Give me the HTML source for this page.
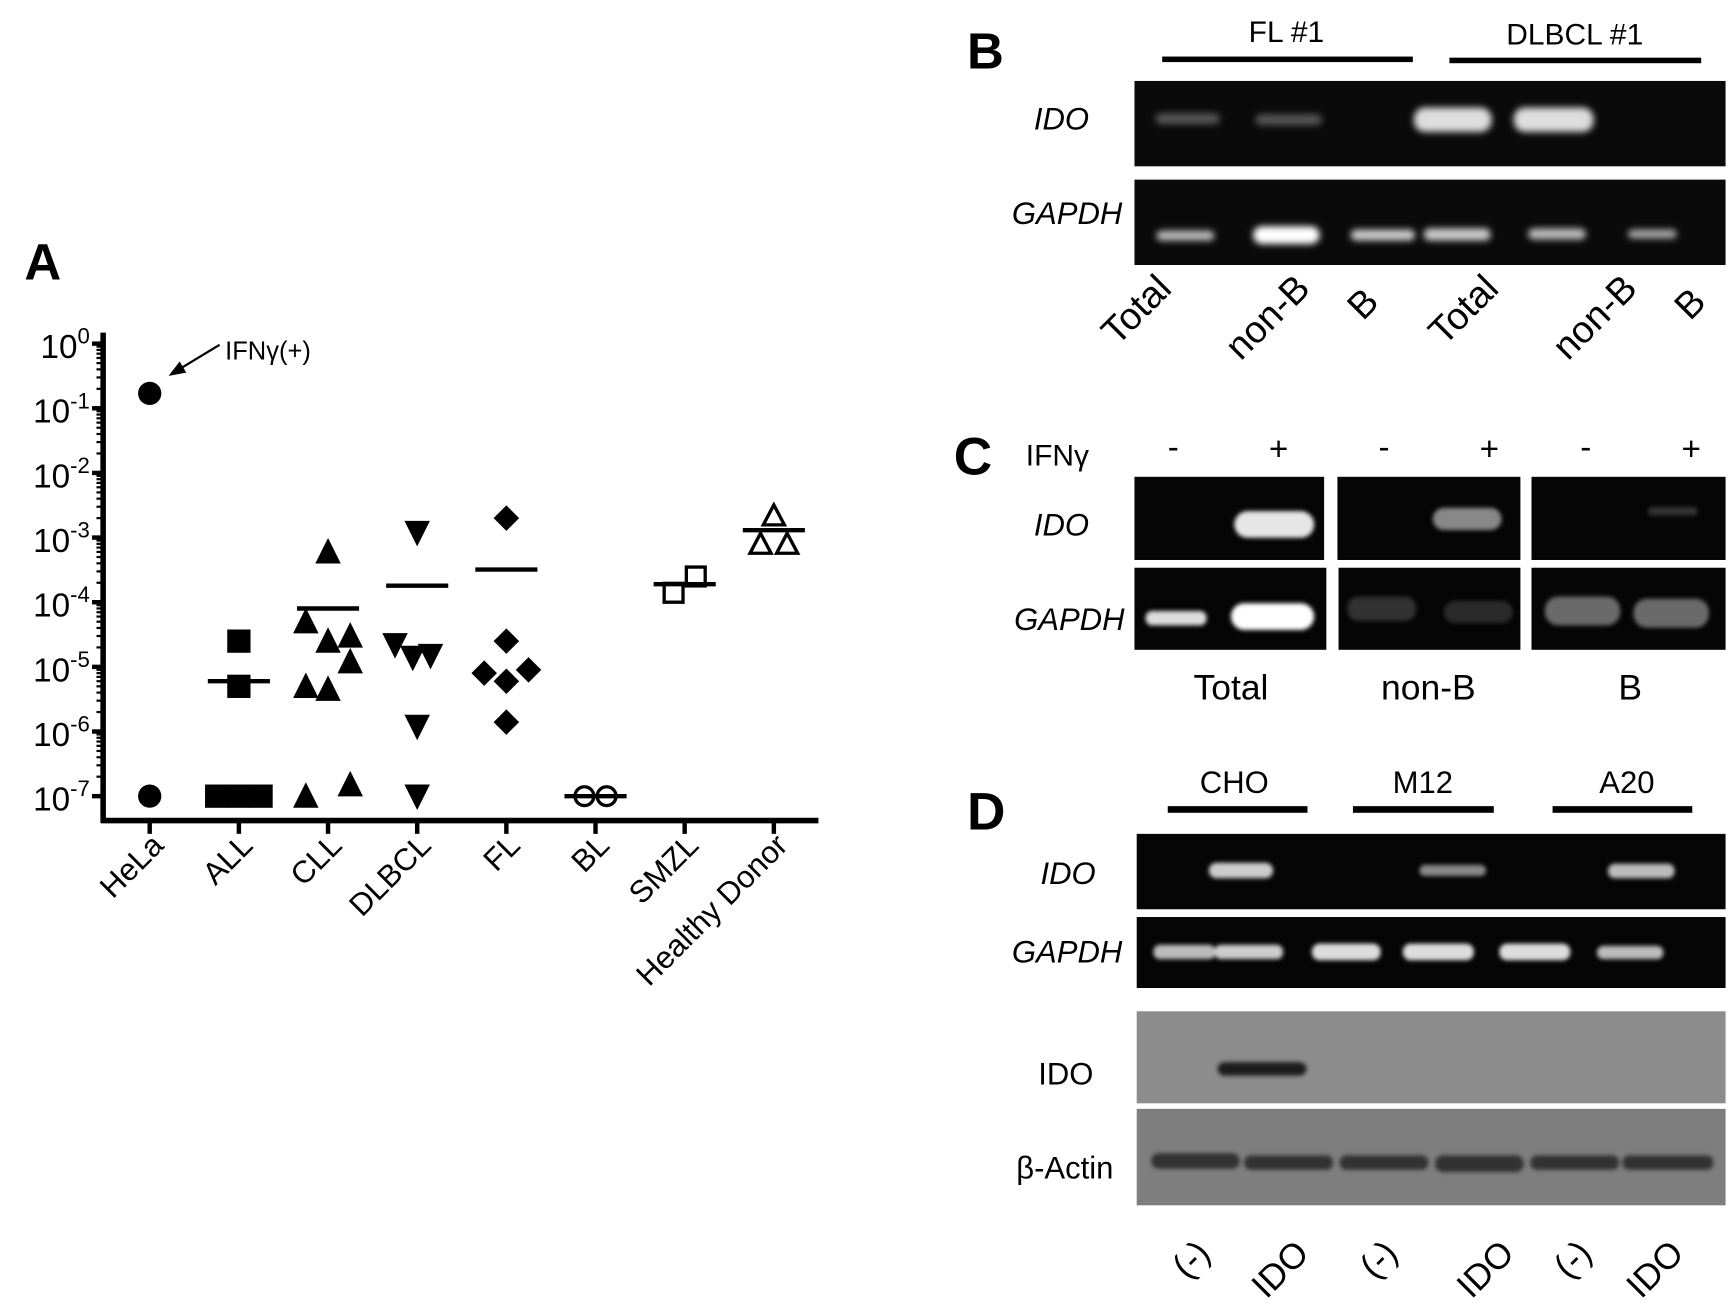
<!DOCTYPE html>
<html><head><meta charset="utf-8"><style>
html,body{margin:0;padding:0;background:#fff;}
svg{display:block;font-family:"Liberation Sans",Arial,sans-serif;}
</style></head><body>
<svg id="fig" width="1730" height="1314" viewBox="0 0 1560 1185" preserveAspectRatio="none">
<defs>
<filter id="blur" x="-30%" y="-100%" width="160%" height="300%"><feGaussianBlur stdDeviation="3"/></filter>
<filter id="blur2" x="-30%" y="-100%" width="160%" height="300%"><feGaussianBlur stdDeviation="2"/></filter>
</defs>
<g id="panelA">
<text x="22" y="252" font-size="46" font-weight="bold">A</text>
</g>
<g id="panelB">
<text x="872" y="62" font-size="46" font-weight="bold">B</text>
<text x="1160" y="38" font-size="27" text-anchor="middle">FL #1</text>
<rect x="1048" y="51" width="226" height="5" fill="#000"/>
<text x="1420" y="40" font-size="27" text-anchor="middle">DLBCL #1</text>
<rect x="1307" y="52" width="227" height="5" fill="#000"/>
<text x="982" y="117" font-size="28" font-style="italic" text-anchor="end">IDO</text>
<text x="1012" y="202" font-size="28" font-style="italic" text-anchor="end">GAPDH</text>
<rect x="1023" y="73" width="533" height="77" fill="#0a0a0a"/>
<rect x="1023" y="162" width="533" height="77" fill="#0a0a0a"/>
<g filter="url(#blur)">
<rect x="1042" y="102" width="58" height="10" rx="5" fill="#555"/>
<rect x="1132" y="103" width="60" height="10" rx="5" fill="#555"/>
<rect x="1275" y="97" width="70" height="22" rx="10" fill="#ddd"/>
<rect x="1365" y="97" width="72" height="22" rx="10" fill="#ddd"/>
<rect x="1043" y="208" width="52" height="9" rx="4" fill="#bbb"/>
<rect x="1130" y="204" width="60" height="16" rx="8" fill="#fff"/>
<rect x="1218" y="207" width="58" height="10" rx="5" fill="#ccc"/>
<rect x="1284" y="206" width="60" height="11" rx="5" fill="#ccc"/>
<rect x="1378" y="206" width="52" height="10" rx="5" fill="#bbb"/>
<rect x="1468" y="207" width="44" height="8" rx="4" fill="#aaa"/>
</g>
<g font-size="34">
<text transform="translate(1058,262) rotate(-45)" text-anchor="end">Total</text>
<text transform="translate(1183,262) rotate(-45)" text-anchor="end">non-B</text>
<text transform="translate(1245,274) rotate(-45)" text-anchor="end">B</text>
<text transform="translate(1353,262) rotate(-45)" text-anchor="end">Total</text>
<text transform="translate(1478,262) rotate(-45)" text-anchor="end">non-B</text>
<text transform="translate(1540,274) rotate(-45)" text-anchor="end">B</text>
</g>
</g>
<g id="panelC">
<text x="860" y="428" font-size="48" font-weight="bold">C</text>
<text x="925" y="420" font-size="27">IFNγ</text>
<g font-size="30" text-anchor="middle">
<text x="1058" y="413">-</text><text x="1153" y="415">+</text>
<text x="1248" y="413">-</text><text x="1343" y="415">+</text>
<text x="1430" y="413">-</text><text x="1525" y="415">+</text>
</g>
<text x="982" y="483" font-size="28" font-style="italic" text-anchor="end">IDO</text>
<text x="1014" y="568" font-size="28" font-style="italic" text-anchor="end">GAPDH</text>
<rect x="1023" y="430" width="171" height="75" fill="#050505"/>
<rect x="1206" y="430" width="165" height="75" fill="#050505"/>
<rect x="1381" y="430" width="175" height="75" fill="#050505"/>
<rect x="1023" y="512" width="173" height="74" fill="#050505"/>
<rect x="1207" y="512" width="164" height="74" fill="#050505"/>
<rect x="1381" y="512" width="175" height="74" fill="#050505"/>
<g filter="url(#blur2)">
<rect x="1113" y="461" width="72" height="24" rx="12" fill="#e6e6e6"/>
<rect x="1292" y="458" width="62" height="20" rx="10" fill="#888"/>
<rect x="1486" y="457" width="45" height="8" rx="4" fill="#333"/>
<rect x="1033" y="551" width="55" height="13" rx="6" fill="#ddd"/>
<rect x="1110" y="544" width="75" height="24" rx="12" fill="#fff"/>
<rect x="1215" y="538" width="62" height="22" rx="10" fill="#333"/>
<rect x="1302" y="542" width="62" height="20" rx="10" fill="#2a2a2a"/>
<rect x="1393" y="538" width="68" height="26" rx="12" fill="#6a6a6a"/>
<rect x="1473" y="540" width="68" height="26" rx="12" fill="#6a6a6a"/>
</g>
<g font-size="32" text-anchor="middle">
<text x="1110" y="631">Total</text><text x="1288" y="631">non-B</text><text x="1470" y="631">B</text>
</g>
</g>
<g id="panelD">
<text x="872" y="748" font-size="48" font-weight="bold">D</text>
<g font-size="28" text-anchor="middle">
<text x="1113" y="715">CHO</text><text x="1283" y="715">M12</text><text x="1467" y="715">A20</text>
</g>
<rect x="1053" y="727" width="126" height="6" fill="#000"/>
<rect x="1220" y="727" width="127" height="6" fill="#000"/>
<rect x="1400" y="727" width="126" height="6" fill="#000"/>
<text x="988" y="797" font-size="28" font-style="italic" text-anchor="end">IDO</text>
<text x="1012" y="868" font-size="28" font-style="italic" text-anchor="end">GAPDH</text>
<text x="986" y="978" font-size="28" text-anchor="end">IDO</text>
<text x="1004" y="1063" font-size="28" text-anchor="end">β-Actin</text>
<rect x="1025" y="752" width="531" height="68" fill="#050505"/>
<rect x="1025" y="827" width="531" height="64" fill="#050505"/>
<rect x="1025" y="912" width="531" height="83" fill="#8c8c8c"/>
<rect x="1025" y="1000" width="531" height="87" fill="#7e7e7e"/>
<g filter="url(#blur2)">
<rect x="1090" y="778" width="58" height="14" rx="7" fill="#ccc"/>
<rect x="1280" y="780" width="60" height="10" rx="5" fill="#888"/>
<rect x="1450" y="779" width="60" height="13" rx="6" fill="#bbb"/>
<rect x="1040" y="852" width="56" height="13" rx="6" fill="#bbb"/>
<rect x="1095" y="852" width="62" height="13" rx="6" fill="#ccc"/>
<rect x="1183" y="851" width="62" height="15" rx="7" fill="#ddd"/>
<rect x="1265" y="851" width="64" height="15" rx="7" fill="#ddd"/>
<rect x="1352" y="851" width="64" height="15" rx="7" fill="#ddd"/>
<rect x="1440" y="853" width="60" height="12" rx="6" fill="#bbb"/>
<rect x="1098" y="958" width="80" height="12" rx="6" fill="#1a1a1a"/>
<rect x="1038" y="1040" width="80" height="14" rx="7" fill="#333"/>
<rect x="1122" y="1042" width="80" height="13" rx="6" fill="#333"/>
<rect x="1208" y="1042" width="80" height="13" rx="6" fill="#333"/>
<rect x="1294" y="1042" width="80" height="15" rx="7" fill="#333"/>
<rect x="1380" y="1042" width="80" height="13" rx="6" fill="#333"/>
<rect x="1463" y="1042" width="82" height="13" rx="6" fill="#333"/>
</g>
<g font-size="32">
<text transform="translate(1093,1132) rotate(-45)" text-anchor="end">(-)</text>
<text transform="translate(1182,1132) rotate(-45)" text-anchor="end">IDO</text>
<text transform="translate(1262,1132) rotate(-45)" text-anchor="end">(-)</text>
<text transform="translate(1367,1132) rotate(-45)" text-anchor="end">IDO</text>
<text transform="translate(1437,1132) rotate(-45)" text-anchor="end">(-)</text>
<text transform="translate(1520,1132) rotate(-45)" text-anchor="end">IDO</text>
</g>
</g>
</svg>
<script>
const categories = ["HeLa","ALL","CLL","DLBCL","FL","BL","SMZL","Healthy Donor"];
const markers = ["circle","square","up","down","diamond","opencircle","opensquare","opentri"];
const values = [
 [0.17, 1e-7],
 [2.5e-5, 5e-6, 1e-7, 1e-7, 1e-7],
 [6e-4, 5e-5, 2.5e-5, 3e-5, 1.2e-5, 5e-6, 4.5e-6, 1e-7, 1.5e-7],
 [1.2e-3, 2.2e-5, 1.4e-5, 1.5e-5, 1.2e-6, 1e-7],
 [2e-3, 2.5e-5, 8e-6, 6e-6, 9e-6, 1.4e-6],
 [1e-7, 1e-7],
 [1.4e-4, 2.5e-4],
 [2.2e-3, 8e-4, 8e-4]
];
const means = [null, 6e-6, 8e-5, 1.8e-4, 3.2e-4, 1e-7, 1.9e-4, 1.3e-3];
const yTickExps = [0,-1,-2,-3,-4,-5,-6,-7];
const jitter = [
 [0,0],[0,0,-1,0,1],[0,-1,0,1,1,-1,0,-1,1],[0,-1,-0.2,0.6,0,0],[0,0,-1,0,1,0],[-0.5,0.5],[-0.5,0.5],[0,-0.6,0.6]
];
const NS="http://www.w3.org/2000/svg";
const g=document.getElementById('panelA');
const X0=93, XBASE=740, XR=738;
function xPos(i){return 135+i*80.4;}
function yPos(v){return 718-(Math.log10(v)+7)*58.3;}
function mk(tag,attrs){const e=document.createElementNS(NS,tag);for(const k in attrs)e.setAttribute(k,attrs[k]);g.appendChild(e);return e;}
let ax=mk('line',{x1:X0,y1:300,x2:X0,y2:XBASE+2,stroke:'#000','stroke-width':5});


let bx=mk('line',{x1:X0-2,y1:XBASE,x2:XR,y2:XBASE,stroke:'#000','stroke-width':5});


yTickExps.forEach(e=>{
 const y=yPos(Math.pow(10,e));
 mk('line',{x1:X0-10,y1:y,x2:X0,y2:y,stroke:'#000','stroke-width':4});
 for(let m=2;m<10;m++){const ym=yPos(m*Math.pow(10,e-1));if(e-1<-7)break;mk('line',{x1:X0-6,y1:ym,x2:X0,y2:ym,stroke:'#000','stroke-width':2});}
 const t=mk('text',{x:X0-12,y:y+13,'font-size':30,'text-anchor':'end'});
 
 
 t.innerHTML='10<tspan dy="-13" font-size="20">'+e+'</tspan>';
});
categories.forEach((c,i)=>{
 const x=xPos(i);
 mk('line',{x1:x,y1:XBASE,x2:x,y2:XBASE+12,stroke:'#000','stroke-width':4});
 const t=mk('text',{transform:`translate(${x+14},${XBASE+24}) rotate(-45)`,'font-size':28,'text-anchor':'end'});
 
 
 t.textContent=c;
 const s=10.5, w=20;
 values[i].forEach((v,j)=>{
  const cx=x+jitter[i][j]*w, cy=yPos(v);
  let e;
  const m=markers[i];
  if(m==='circle') e=mk('circle',{cx,cy,r:s,fill:'#000'});
  else if(m==='square') e=mk('rect',{x:cx-s,y:cy-s,width:2*s,height:2*s,fill:'#000'});
  else if(m==='up') e=mk('polygon',{points:`${cx},${cy-s-2} ${cx-s-1},${cy+s} ${cx+s+1},${cy+s}`,fill:'#000'});
  else if(m==='down') e=mk('polygon',{points:`${cx},${cy+s+2} ${cx-s-1},${cy-s} ${cx+s+1},${cy-s}`,fill:'#000'});
  else if(m==='diamond') e=mk('polygon',{points:`${cx},${cy-s-1} ${cx+s+1},${cy} ${cx},${cy+s+1} ${cx-s-1},${cy}`,fill:'#000'});
  else if(m==='opencircle') e=mk('circle',{cx,cy,r:s-2,fill:'none',stroke:'#000','stroke-width':3});
  else if(m==='opensquare') e=mk('rect',{x:cx-s+2,y:cy-s+2,width:2*s-4,height:2*s-4,fill:'#fff',stroke:'#000','stroke-width':3});
  else e=mk('polygon',{points:`${cx},${cy-s+1} ${cx-s+1},${cy+s-2} ${cx+s-1},${cy+s-2}`,fill:'#fff',stroke:'#000','stroke-width':3});
  
  
 });
 if(means[i]!==null){
  const ym=yPos(means[i]);
  const l=mk('line',{x1:x-28,y1:ym,x2:x+28,y2:ym,stroke:'#000','stroke-width':4});
  
  
 }
});
const ar=mk('line',{x1:198,y1:311,x2:160,y2:334,stroke:'#000','stroke-width':2});


const ah=mk('polygon',{points:'152,339 162,326 168,336',fill:'#000'});


const at=mk('text',{x:203,y:324,'font-size':23});


at.textContent='IFNγ(+)';
</script>
</body></html>
